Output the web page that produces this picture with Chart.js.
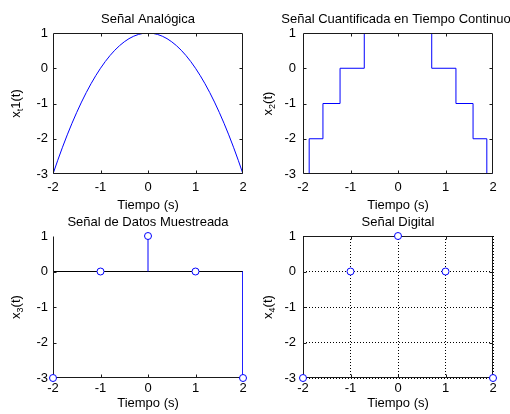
<!DOCTYPE html>
<html>
<head>
<meta charset="utf-8">
<script src="https://cdn.jsdelivr.net/npm/chart.js@4.4.0/dist/chart.umd.min.js"></script>
<style>
body { margin: 0; background: #fff; }
#wrap { position: relative; width: 510px; height: 414px; overflow: hidden; background: #fff; }
canvas { position: absolute; left: 0; top: 0; }
</style>
</head>
<body>
<div id="wrap">
	<canvas id="c1" width="510" height="414"></canvas>
	<canvas id="c2" width="510" height="414"></canvas>
	<canvas id="c3" width="510" height="414"></canvas>
	<canvas id="c4" width="510" height="414"></canvas>
</div>
<script>
// ticks shared by the four plots
var xTicks = [-2, -1, 0, 1, 2];
var yTicks = [-3, -2, -1, 0, 1];

// analog signal
var tAnalog = [-2.0, -1.9, -1.8, -1.7, -1.6, -1.5, -1.4, -1.3, -1.2, -1.1, -1.0,
	-0.9, -0.8, -0.7, -0.6, -0.5, -0.4, -0.3, -0.2, -0.1, 0.0,
	0.1, 0.2, 0.3, 0.4, 0.5, 0.6, 0.7, 0.8, 0.9, 1.0,
	1.1, 1.2, 1.3, 1.4, 1.5, 1.6, 1.7, 1.8, 1.9, 2.0];
var xAnalog = [-3.00, -2.61, -2.24, -1.89, -1.56, -1.25, -0.96, -0.69, -0.44, -0.21, 0.00,
	0.19, 0.36, 0.51, 0.64, 0.75, 0.84, 0.91, 0.96, 0.99, 1.00,
	0.99, 0.96, 0.91, 0.84, 0.75, 0.64, 0.51, 0.36, 0.19, 0.00,
	-0.21, -0.44, -0.69, -0.96, -1.25, -1.56, -1.89, -2.24, -2.61, -3.00];

// quantized signal: level starts at each time
var tQuant = [-2, -1.87, -1.58, -1.22, -0.71, 0.71, 1.22, 1.58, 1.87, 2];
var xQuant = [-3, -2, -1, 0, 1, 0, -1, -2, -3, -3];

// samples
var nSamples = [-2, -1, 0, 1, 2];
var xSamples = [-3, 0, 1, 0, -3];
var xDigital = [-3, 0, 1, 0, -3];
var stemBase = 0;

var FONT = '"Liberation Sans", Arial, Helvetica, sans-serif';
var BLUE = '#0000ff';
var AXIS = '#1a1a1a';
var W = 510, H = 414;

Chart.defaults.font.family = FONT;
Chart.defaults.font.size = 13;
Chart.defaults.color = '#000';

function pts(xs, ys) {
	return xs.map(function (x, i) { return { x: x, y: ys[i] }; });
}

function drawAxes(chart, o) {
	var ctx = chart.ctx, a = chart.chartArea;
	var xs = chart.scales.x, ys = chart.scales.y;
	var L = a.left + 0.5, R = a.right - 0.5, T = a.top + 0.5, B = a.bottom - 0.5;
	var tl = 3;
	ctx.save();
	ctx.strokeStyle = AXIS;
	ctx.lineWidth = 1;
	ctx.beginPath();
	if (o.box) {
		ctx.rect(L, T, R - L, B - T);
	} else {
		ctx.moveTo(L, T); ctx.lineTo(L, B); ctx.lineTo(R, B);
	}
	xs.ticks.forEach(function (t) {
		if (t.value === xs.min || t.value === xs.max) return;
		var px = Math.round(xs.getPixelForValue(t.value)) + 0.5;
		ctx.moveTo(px, B); ctx.lineTo(px, B - tl);
		if (o.box) { ctx.moveTo(px, T); ctx.lineTo(px, T + tl); }
	});
	ys.ticks.forEach(function (t) {
		if (t.value === ys.min || t.value === ys.max) return;
		var py = Math.round(ys.getPixelForValue(t.value)) + 0.5;
		ctx.moveTo(L, py); ctx.lineTo(L + tl, py);
		if (o.box) { ctx.moveTo(R, py); ctx.lineTo(R - tl, py); }
	});
	ctx.stroke();
	ctx.restore();
}

function drawTexts(chart, o) {
	var ctx = chart.ctx, a = chart.chartArea;
	var cx = (a.left + a.right) / 2;
	ctx.save();
	ctx.fillStyle = '#000';
	ctx.font = '13px ' + FONT;
	ctx.textAlign = 'center';
	ctx.textBaseline = 'alphabetic';
	ctx.fillText(o.title, cx + (o.titleDx || 0), a.top - 10);
	ctx.fillText(o.xlabel, cx, a.bottom + o.xlabelGap);

	ctx.translate(a.left - o.ylabelGap, (a.top + a.bottom) / 2);
	ctx.rotate(-Math.PI / 2);
	ctx.textAlign = 'left';
	var w = 0;
	o.ylabel.forEach(function (p) {
		ctx.font = p.size + 'px ' + FONT;
		w += ctx.measureText(p.text).width;
	});
	var x = -w / 2;
	o.ylabel.forEach(function (p) {
		ctx.font = p.size + 'px ' + FONT;
		ctx.fillText(p.text, x, p.dy);
		x += ctx.measureText(p.text).width;
	});
	ctx.restore();
}

var matlabAxes = {
	id: 'matlabAxes',
	beforeDatasetsDraw: function (chart, args, o) {
		if (o.after === null) drawAxes(chart, o);
	},
	afterDatasetDraw: function (chart, args, o) {
		if (args.index === o.after) drawAxes(chart, o);
	},
	afterDraw: function (chart, args, o) {
		drawTexts(chart, o);
	}
};

// every chart covers the whole page; padding puts its plot box in place
function makeChart(id, datasets, o) {
	var yw = 50, xh = 40;
	return new Chart(document.getElementById(id), {
		type: 'line',
		data: { datasets: datasets },
		options: {
			responsive: false,
			animation: false,
			devicePixelRatio: 1,
			events: [],
			layout: { padding: { left: o.left - yw, top: o.top, right: W - o.right, bottom: H - o.bottom - xh } },
			scales: {
				x: {
					type: 'linear',
					min: xTicks[0], max: xTicks[xTicks.length - 1],
					afterBuildTicks: function (s) { s.ticks = xTicks.map(function (v) { return { value: v }; }); },
					afterFit: function (s) { s.height = xh; },
					grid: { display: o.grid, color: '#000', lineWidth: 1, drawTicks: false },
					border: { display: false, dash: [1, 2] },
					ticks: { padding: o.xpad, color: '#000', maxRotation: 0 }
				},
				y: {
					type: 'linear',
					min: yTicks[0], max: yTicks[yTicks.length - 1],
					afterBuildTicks: function (s) { s.ticks = yTicks.map(function (v) { return { value: v }; }); },
					afterFit: function (s) { s.width = yw; },
					grid: { display: o.grid, color: '#000', lineWidth: 1, drawTicks: false },
					border: { display: false, dash: [1, 2] },
					ticks: { padding: o.ypad, color: '#000' }
				}
			},
			plugins: {
				legend: { display: false },
				tooltip: { enabled: false },
				matlabAxes: o.axes
			}
		},
		plugins: [matlabAxes]
	});
}

// 1. analog
makeChart('c1', [
	{ data: pts(tAnalog, xAnalog), borderColor: BLUE, borderWidth: 1, pointRadius: 0, tension: 0 }
], {
	left: 53, right: 243, top: 33, bottom: 174, xpad: 6, ypad: 5, grid: false,
	axes: {
		box: true, after: 0, title: 'Señal Analógica', xlabel: 'Tiempo (s)', xlabelGap: 35, ylabelGap: 33,
		ylabel: [{ text: 'x', size: 13, dy: 0 }, { text: 't', size: 9, dy: 3 }, { text: '1(t)', size: 13, dy: 0 }]
	}
});

// 2. quantized, continuous time
makeChart('c2', [
	{ data: pts(tQuant, xQuant), borderColor: BLUE, borderWidth: 1, pointRadius: 0, stepped: 'before' }
], {
	left: 303, right: 493, top: 33, bottom: 174, xpad: 6, ypad: 7, grid: false,
	axes: {
		box: true, after: 0, title: 'Señal Cuantificada en Tiempo Continuo', titleDx: -2, xlabel: 'Tiempo (s)', xlabelGap: 35, ylabelGap: 31,
		ylabel: [{ text: 'x', size: 13, dy: 0 }, { text: '2', size: 9, dy: 3 }, { text: '(t)', size: 13, dy: 0 }]
	}
});

// 3. sampled (stem)
var stemData = [];
nSamples.forEach(function (n, i) {
	stemData.push({ x: n, y: stemBase }, { x: n, y: xSamples[i] }, { x: n, y: null });
});
makeChart('c3', [
	{ data: pts(nSamples, xSamples), showLine: false, pointRadius: 3.5, pointBorderWidth: 1,
		pointBorderColor: BLUE, pointBackgroundColor: '#fff', clip: false },
	{ data: stemData, borderColor: BLUE, borderWidth: 1, pointRadius: 0, spanGaps: false },
	{ data: pts([xTicks[0], xTicks[xTicks.length - 1]], [stemBase, stemBase]), borderColor: '#000', borderWidth: 1, pointRadius: 0 }
], {
	left: 53, right: 243, top: 236, bottom: 378, xpad: 3, ypad: 5, grid: false,
	axes: {
		box: false, after: 1, title: 'Señal de Datos Muestreada', xlabel: 'Tiempo (s)', xlabelGap: 29, ylabelGap: 33,
		ylabel: [{ text: 'x', size: 13, dy: 0 }, { text: '3', size: 9, dy: 3 }, { text: '(t)', size: 13, dy: 0 }]
	}
});

// 4. digital
makeChart('c4', [
	{ data: pts(nSamples, xDigital), showLine: false, pointRadius: 3.5, pointBorderWidth: 1,
		pointBorderColor: BLUE, pointBackgroundColor: '#fff', clip: false }
], {
	left: 303, right: 493, top: 236, bottom: 378, xpad: 3, ypad: 7, grid: true,
	axes: {
		box: true, after: null, title: 'Señal Digital', xlabel: 'Tiempo (s)', xlabelGap: 29, ylabelGap: 31,
		ylabel: [{ text: 'x', size: 13, dy: 0 }, { text: '4', size: 9, dy: 3 }, { text: '(t)', size: 13, dy: 0 }]
	}
});
</script>
</body>
</html>
